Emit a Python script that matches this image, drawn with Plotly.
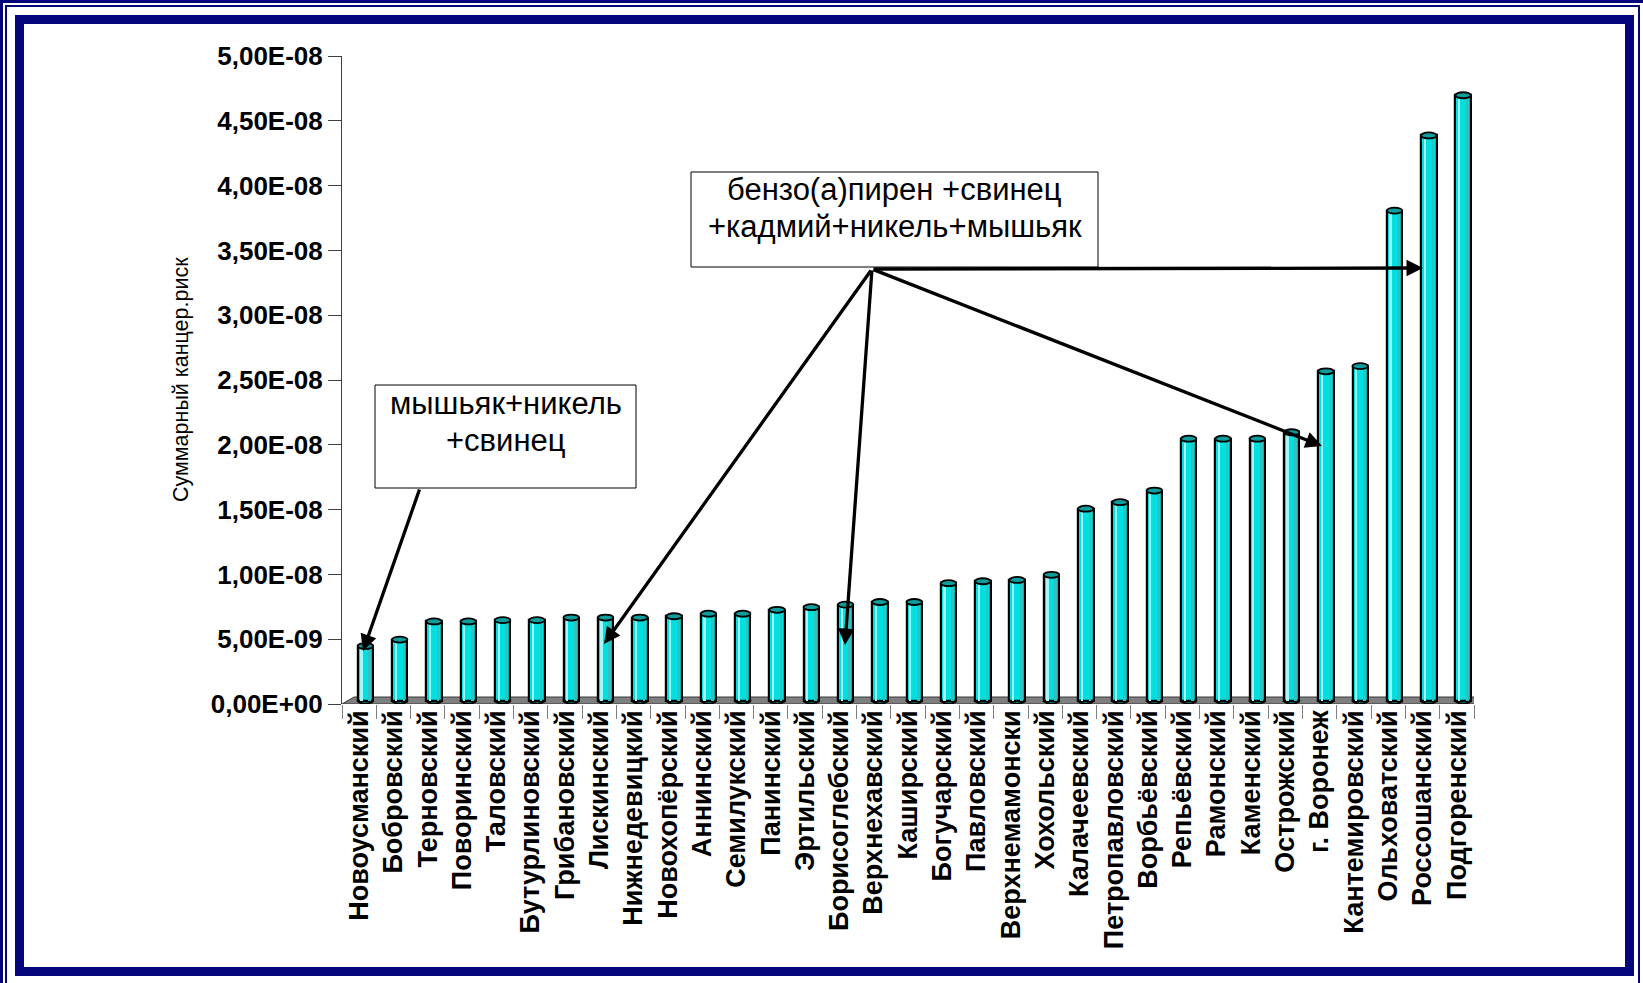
import plotly.graph_objects as go

# ---- data -------------------------------------------------------------
districts = [
    "Новоусманский", "Бобровский", "Терновский", "Поворинский", "Таловский",
    "Бутурлиновский", "Грибановский", "Лискинский", "Нижнедевицкий",
    "Новохопёрский", "Аннинский", "Семилукский", "Панинский", "Эртильский",
    "Борисоглебский", "Верхнехавский", "Каширский", "Богучарский",
    "Павловский", "Верхнемамонски", "Хохольский", "Калачеевский",
    "Петропавловский", "Ворбьёвский", "Репьёвский", "Рамонский", "Каменский",
    "Острожский", "г. Воронеж", "Кантемировский", "Ольховатский",
    "Россошанский", "Подгоренский",
]
risk = [
    4.2e-9, 4.7e-9, 6.1e-9, 6.1e-9, 6.2e-9, 6.2e-9, 6.4e-9, 6.4e-9, 6.4e-9,
    6.5e-9, 6.7e-9, 6.7e-9, 7.0e-9, 7.2e-9, 7.4e-9, 7.6e-9, 7.6e-9, 9.05e-9,
    9.2e-9, 9.3e-9, 9.7e-9, 1.48e-8, 1.53e-8, 1.62e-8, 2.02e-8, 2.02e-8,
    2.02e-8, 2.07e-8, 2.54e-8, 2.58e-8, 3.78e-8, 4.36e-8, 4.67e-8,
]
y_tick_values = [0, 5e-9, 1e-8, 1.5e-8, 2e-8, 2.5e-8, 3e-8, 3.5e-8, 4e-8, 4.5e-8, 5e-8]
y_tick_labels = ["0,00E+00", "5,00E-09", "1,00E-08", "1,50E-08", "2,00E-08",
                 "2,50E-08", "3,00E-08", "3,50E-08", "4,00E-08", "4,50E-08",
                 "5,00E-08"]
y_title = "Суммарный канцер.риск"
note_small_lines = ["мышьяк+никель", "+свинец"]
note_big_lines = ["бензо(а)пирен +свинец", "+кадмий+никель+мышьяк"]

# ---- geometry ---------------------------------------------------------
W, H = 1643, 983
PL, PR, PT, PB = 342, 1474, 56, 704          # plot area in pixels
Y_MAX = 5e-8
DEPTH_PX = 7                                  # oblique depth of the floor
HALF_DEPTH = Y_MAX * (DEPTH_PX / 2) / (PB - PT)
BAR_W = 0.45
BAR_OFF = -BAR_W / 2 + 0.183                  # columns sit mid-depth, shifted right

NAVY = "#06067C"
FONT = "Liberation Sans, Arial, sans-serif"


def px(x):
    return (x - PL) / (PR - PL)


def py(y):
    return (PB - y) / (PB - PT)


fig = go.Figure()

# cylinder body
fig.add_trace(go.Bar(
    x=districts, y=risk, width=BAR_W, offset=BAR_OFF, yaxis="y2",
    marker=dict(color="#00E0E0", line=dict(color="#000000", width=2.2)),
    hoverinfo="x+y", showlegend=False,
))
# light reflex
fig.add_trace(go.Bar(
    x=districts, y=risk, width=BAR_W * 0.11, offset=BAR_OFF + BAR_W * 0.2,
    yaxis="y2", marker=dict(color="#A6F7F7", line=dict(width=0)),
    hoverinfo="skip", showlegend=False,
))
# shaded side
fig.add_trace(go.Bar(
    x=districts, y=risk, width=BAR_W * 0.17, offset=BAR_OFF + BAR_W * 0.68,
    yaxis="y2", marker=dict(color="#2FC2C2", line=dict(width=0)),
    hoverinfo="skip", showlegend=False,
))

shapes = []
# floor of the 3-D chart
dx = 12 / ((PR - PL) / len(districts))
shapes.append(dict(
    type="path", xref="x", yref="y", ysizemode="pixel", yanchor=0,
    path=(f"M -0.5,0 L {len(districts) - 0.5},0 "
          f"L {len(districts) - 0.5 + dx},{DEPTH_PX} L {-0.5 + dx},{DEPTH_PX} Z"),
    fillcolor="#7F7F7F", line=dict(color="#3A3A3A", width=1), layer="below",
))
# rounded bottoms and top caps of the cylinders
for i, v in enumerate(risk):
    x0, x1 = i + BAR_OFF, i + BAR_OFF + BAR_W
    shapes.append(dict(
        type="circle", xref="x", yref="y2", ysizemode="pixel", yanchor=0,
        x0=x0, x1=x1, y0=-3, y1=3, fillcolor="#00E0E0",
        line=dict(color="#000000", width=2), layer="below",
    ))
    shapes.append(dict(
        type="circle", xref="x", yref="y2", ysizemode="pixel", yanchor=v,
        x0=x0, x1=x1, y0=-3, y1=3, fillcolor="#0F9C9C",
        line=dict(color="#000000", width=1.8), layer="above",
    ))


def band(x0, y0, x1, y1, color=NAVY):
    shapes.append(dict(type="rect", xref="paper", yref="paper",
                       x0=px(x0), x1=px(x1), y0=py(y0), y1=py(y1),
                       fillcolor=color, line=dict(width=0), layer="above"))


# slide frame
band(0, 0, W, 3)
band(0, 0, 3, H)
band(5, 5, 1640, 7)
band(5, 5, 7, H)
band(1638, 5, 1640, H)
band(15, 15, 1634, 24)
band(15, 967, 1634, 976)
band(15, 15, 24, 976)
band(1625, 15, 1634, 976)

annotations = []
# axis title
annotations.append(dict(
    text=y_title, xref="paper", yref="paper", x=px(181), y=py(380),
    textangle=-90, showarrow=False, xanchor="center", yanchor="middle",
    font=dict(family=FONT, size=21.5, color="#000000"),
))

# pointer arrows: (tail_x, tail_y, tip_x, tip_y) in pixels
arrows = [
    (420, 488, 363, 651),
    (872, 269, 604, 644),
    (872, 269, 845, 645),
    (872, 269, 1322, 446),
    (872, 269, 1423, 268),
]
for tx, ty, hx, hy in arrows:
    annotations.append(dict(
        text="", xref="paper", yref="paper", x=px(hx), y=py(hy),
        ax=tx - hx, ay=ty - hy, axref="pixel", ayref="pixel",
        showarrow=True, arrowhead=2, arrowsize=1.0, arrowwidth=3.3,
        arrowcolor="#000000", standoff=0, startstandoff=0,
    ))


def text_box(x0, y0, x1, y1, lines, line_y):
    shapes.append(dict(type="rect", xref="paper", yref="paper",
                       x0=px(x0), x1=px(x1), y0=py(y0), y1=py(y1),
                       fillcolor="#FFFFFF", line=dict(color="#000000", width=1),
                       layer="above"))
    for t, ly in zip(lines, line_y):
        annotations.append(dict(
            text=t, xref="paper", yref="paper", x=px((x0 + x1) / 2), y=py(ly),
            xanchor="center", yanchor="middle", showarrow=False,
            font=dict(family=FONT, size=31, color="#000000"),
        ))


text_box(375, 385, 636, 488, note_small_lines, [404, 440])
text_box(691, 172, 1098, 267, note_big_lines, [189, 226])

fig.update_layout(
    width=W, height=H, autosize=False,
    margin=dict(l=PL, r=W - PR, t=PT, b=H - PB, pad=0),
    paper_bgcolor="#FFFFFF", plot_bgcolor="#FFFFFF",
    barmode="overlay", bargap=0,
    font=dict(family=FONT, color="#000000"),
    xaxis=dict(
        type="category", categoryorder="array", categoryarray=districts,
        range=[-0.5, len(districts) - 0.5],
        tickangle=-90, tickson="boundaries", ticks="outside", ticklen=14,
        tickcolor="#808080", tickwidth=1, showline=False, showgrid=False,
        zeroline=False, fixedrange=True,
        tickfont=dict(family=FONT, size=27, color="#000000", weight="bold"),
    ),
    yaxis=dict(
        range=[0, Y_MAX], tickvals=y_tick_values, ticktext=y_tick_labels,
        ticks="outside", ticklen=13, tickcolor="#404040", tickwidth=1,
        showline=True, linecolor="#404040", linewidth=1, showgrid=False,
        zeroline=False, fixedrange=True,
        tickfont=dict(family=FONT, size=26, color="#000000", weight="bold"),
    ),
    yaxis2=dict(
        overlaying="y", range=[-HALF_DEPTH, Y_MAX - HALF_DEPTH],
        visible=False, fixedrange=True,
    ),
    shapes=shapes,
    annotations=annotations,
    showlegend=False,
)

fig.write_html("out.html")
